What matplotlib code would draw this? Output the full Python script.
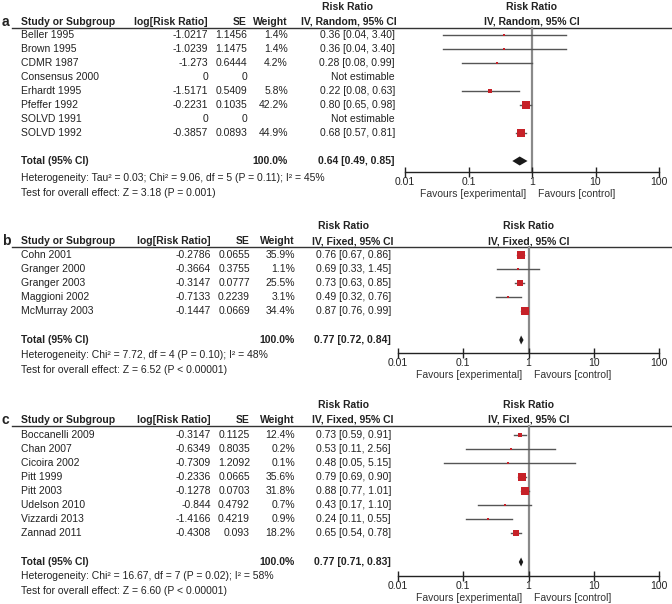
import numpy as np
import matplotlib
matplotlib.use("Agg")
import matplotlib.pyplot as plt
from matplotlib.ticker import NullLocator

plt.rcParams['font.family'] = ['Liberation Sans', 'DejaVu Sans']

# ---- data ----
a_study = ["Beller 1995", "Brown 1995", "CDMR 1987", "Consensus 2000",
           "Erhardt 1995", "Pfeffer 1992", "SOLVD 1991", "SOLVD 1992"]
a_logrr = [-1.0217, -1.0239, -1.273, 0, -1.5171, -0.2231, 0, -0.3857]
a_se = [1.1456, 1.1475, 0.6444, 0, 0.5409, 0.1035, 0, 0.0893]
a_weight = [1.4, 1.4, 4.2, None, 5.8, 42.2, None, 44.9]
a_rr = [0.36, 0.36, 0.28, None, 0.22, 0.80, None, 0.68]
a_lo = [0.04, 0.04, 0.08, None, 0.08, 0.65, None, 0.57]
a_hi = [3.40, 3.40, 0.99, None, 0.63, 0.98, None, 0.81]
a_total = [0.64, 0.49, 0.85]
a_notes = ["Heterogeneity: Tau\u00b2 = 0.03; Chi\u00b2 = 9.06, df = 5 (P = 0.11); I\u00b2 = 45%",
           "Test for overall effect: Z = 3.18 (P = 0.001)"]

b_study = ["Cohn 2001", "Granger 2000", "Granger 2003", "Maggioni 2002", "McMurray 2003"]
b_logrr = [-0.2786, -0.3664, -0.3147, -0.7133, -0.1447]
b_se = [0.0655, 0.3755, 0.0777, 0.2239, 0.0669]
b_weight = [35.9, 1.1, 25.5, 3.1, 34.4]
b_rr = [0.76, 0.69, 0.73, 0.49, 0.87]
b_lo = [0.67, 0.33, 0.63, 0.32, 0.76]
b_hi = [0.86, 1.45, 0.85, 0.76, 0.99]
b_total = [0.77, 0.72, 0.84]
b_notes = ["Heterogeneity: Chi\u00b2 = 7.72, df = 4 (P = 0.10); I\u00b2 = 48%",
           "Test for overall effect: Z = 6.52 (P < 0.00001)"]

c_study = ["Boccanelli 2009", "Chan 2007", "Cicoira 2002", "Pitt 1999",
           "Pitt 2003", "Udelson 2010", "Vizzardi 2013", "Zannad 2011"]
c_logrr = [-0.3147, -0.6349, -0.7309, -0.2336, -0.1278, -0.844, -1.4166, -0.4308]
c_se = [0.1125, 0.8035, 1.2092, 0.0665, 0.0703, 0.4792, 0.4219, 0.093]
c_weight = [12.4, 0.2, 0.1, 35.6, 31.8, 0.7, 0.9, 18.2]
c_rr = [0.73, 0.53, 0.48, 0.79, 0.88, 0.43, 0.24, 0.65]
c_lo = [0.59, 0.11, 0.05, 0.69, 0.77, 0.17, 0.11, 0.54]
c_hi = [0.91, 2.56, 5.15, 0.90, 1.01, 1.10, 0.55, 0.78]
c_total = [0.77, 0.71, 0.83]
c_notes = ["Heterogeneity: Chi\u00b2 = 16.67, df = 7 (P = 0.02); I\u00b2 = 58%",
           "Test for overall effect: Z = 6.60 (P < 0.00001)"]

W, H = 672, 604
TXT = '#222222'
RED = '#c62128'
FS = 7.5

fig = plt.figure(figsize=(W / 100, H / 100), dpi=100)
bg = fig.add_axes([0, 0, 1, 1])
bg.set_xlim(0, W)
bg.set_ylim(H, 0)
bg.axis('off')


def panel(label, method, study, logrr, se, weight, rr, lo, hi, total, notes,
          line_y, row0, total_y, axis_y, note_y, x0, cols):
    c_log, c_se, c_w, c_rr = cols
    rows = [row0 + 14 * i for i in range(len(study))]

    # table header
    bg.text(2, line_y - 6, label, fontsize=10, fontweight='bold', color=TXT, va='center')
    bg.plot([12, W], [line_y, line_y], color='#333333', lw=1)
    hy = line_y - 6
    bg.text(21, hy, "Study or Subgroup", fontsize=FS, fontweight='bold', color=TXT, va='center')
    bg.text(c_log, hy, "log[Risk Ratio]", fontsize=FS, fontweight='bold', color=TXT, va='center', ha='right')
    bg.text(c_se, hy, "SE", fontsize=FS, fontweight='bold', color=TXT, va='center', ha='right')
    bg.text(c_w, hy, "Weight", fontsize=FS, fontweight='bold', color=TXT, va='center', ha='right')
    bg.text(c_rr + 2, hy, "IV, %s, 95%% CI" % method, fontsize=FS, fontweight='bold',
            color=TXT, va='center', ha='right')
    bg.text(c_rr - 47, line_y - 21, "Risk Ratio", fontsize=FS, fontweight='bold',
            color=TXT, va='center', ha='center')

    for i, y in enumerate(rows):
        bg.text(21, y, study[i], fontsize=FS, color=TXT, va='center')
        bg.text(c_log, y, f"{logrr[i]:g}", fontsize=FS, color=TXT, va='center', ha='right')
        bg.text(c_se, y, f"{se[i]:g}", fontsize=FS, color=TXT, va='center', ha='right')
        if weight[i] is None:
            bg.text(c_rr, y, "Not estimable", fontsize=FS, color=TXT, va='center', ha='right')
        else:
            bg.text(c_w, y, f"{weight[i]:.1f}%", fontsize=FS, color=TXT, va='center', ha='right')
            bg.text(c_rr, y, f"{rr[i]:.2f} [{lo[i]:.2f}, {hi[i]:.2f}]", fontsize=FS,
                    color=TXT, va='center', ha='right')

    bg.text(21, total_y, "Total (95% CI)", fontsize=FS, fontweight='bold', color=TXT, va='center')
    bg.text(c_w, total_y, "100.0%", fontsize=FS, fontweight='bold', color=TXT, va='center', ha='right')
    bg.text(c_rr, total_y, f"{total[0]:.2f} [{total[1]:.2f}, {total[2]:.2f}]", fontsize=FS,
            fontweight='bold', color=TXT, va='center', ha='right')
    bg.text(21, note_y, notes[0], fontsize=FS, color=TXT, va='center')
    bg.text(21, note_y + 15, notes[1], fontsize=FS, color=TXT, va='center')

    # forest plot
    x1 = 659
    ax = fig.add_axes([x0 / W, 1 - axis_y / H, (x1 - x0) / W, (axis_y - line_y) / H])
    ax.patch.set_visible(False)
    ax.set_xscale('log')
    ax.set_xlim(0.01, 100)
    ax.set_ylim(axis_y, line_y)
    for s in ['top', 'left', 'right']:
        ax.spines[s].set_visible(False)
    ax.spines['bottom'].set_color('#222222')
    ax.spines['bottom'].set_linewidth(1)
    ax.set_yticks([])
    ax.set_xticks([0.01, 0.1, 1, 10, 100])
    ax.set_xticklabels(["0.01", "0.1", "1", "10", "100"])
    ax.xaxis.set_minor_locator(NullLocator())
    ax.tick_params(axis='x', direction='inout', length=7, width=1, labelsize=FS,
                   pad=0.3, colors='#222222')
    ax.plot([1, 1], [line_y, axis_y], color='#8a8a8a', lw=1.6, zorder=1, clip_on=False)

    for i, y in enumerate(rows):
        if weight[i] is None:
            continue
        ax.plot([lo[i], hi[i]], [y, y], color='#555555', lw=1.0, zorder=2)
        side_px = max(1.27 * np.sqrt(weight[i]), 2.0)
        ax.plot(rr[i], y, marker='s', ms=side_px * 0.72, color=RED, mec=RED, mew=0, zorder=3)

    est, tlo, thi = total
    ax.fill([tlo, est, thi, est], [total_y, total_y - 4.5, total_y, total_y + 4.5],
            color='#1a1a1a', zorder=3, lw=0)

    ax.text(1, line_y - 21, "Risk Ratio", fontsize=FS, fontweight='bold', color=TXT,
            ha='center', va='center', transform=ax.transData)
    ax.text(1, line_y - 6, "IV, %s, 95%% CI" % method, fontsize=FS, fontweight='bold',
            color=TXT, ha='center', va='center', transform=ax.transData)
    ax.annotate("Favours [experimental]", xy=(1, axis_y), xytext=(-6, -22),
                textcoords='offset pixels', ha='right', va='center', fontsize=FS,
                color='#333333', annotation_clip=False)
    ax.annotate("Favours [control]", xy=(1, axis_y), xytext=(6, -22),
                textcoords='offset pixels', ha='left', va='center', fontsize=FS,
                color='#333333', annotation_clip=False)


panel("a", "Random", a_study, a_logrr, a_se, a_weight, a_rr, a_lo, a_hi, a_total, a_notes,
      line_y=28, row0=35, total_y=161, axis_y=172, note_y=178, x0=405,
      cols=(208, 247, 288, 395))
panel("b", "Fixed", b_study, b_logrr, b_se, b_weight, b_rr, b_lo, b_hi, b_total, b_notes,
      line_y=247, row0=255, total_y=340, axis_y=353, note_y=355, x0=398,
      cols=(211, 250, 295, 391))
panel("c", "Fixed", c_study, c_logrr, c_se, c_weight, c_rr, c_lo, c_hi, c_total, c_notes,
      line_y=426, row0=435, total_y=562, axis_y=576, note_y=576, x0=398,
      cols=(211, 250, 295, 391))

fig.savefig("out.png", dpi=100)
